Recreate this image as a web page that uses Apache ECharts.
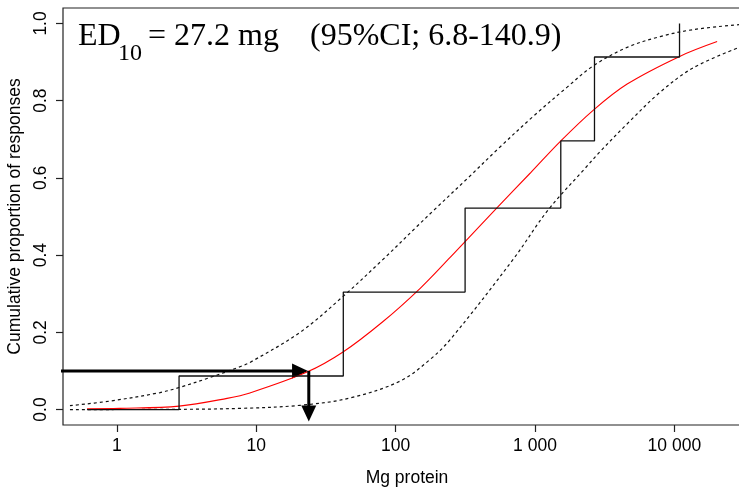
<!DOCTYPE html>
<html>
<head>
<meta charset="utf-8">
<script src="https://cdn.jsdelivr.net/npm/echarts@6/dist/echarts.min.js"></script>
<style>
html,body{margin:0;padding:0;background:#fff;}
#c{width:739px;height:495px;}
</style>
</head>
<body>
<div id="c"></div>
<script>
// ---- data (x in mg protein, y = cumulative proportion) ----
var xTickValues = [1, 10, 100, 1000, 10000];
var xTickLabels = ['1', '10', '100', '1 000', '10 000'];
var yTickValues = [0, 0.2, 0.4, 0.6, 0.8, 1.0];

// empirical step function (23 subjects)
var stepX = [0.61, 2.79, 42.1, 315, 1531, 2672, 10890];
var stepY = [0, 2/23, 7/23, 12/23, 16/23, 21/23, 1.0];

// fitted curve (red)
var fitX = [0.61, 1.05, 2.79, 6.17, 9.0, 23.1, 41.9, 81.2, 150, 246, 315, 535, 922, 1514, 2612, 4584, 10820, 20280];
var fitY = [0.002, 0.003, 0.009, 0.029, 0.043, 0.097, 0.149, 0.228, 0.314, 0.394, 0.435, 0.523, 0.612, 0.694, 0.775, 0.843, 0.914, 0.953];

// 95% CI, upper band
var upX = [0.46, 0.89, 2.04, 2.79, 4.66, 7.64, 9.0, 20.6, 41.9, 81.2, 142, 185, 326, 561, 968, 1700, 2612, 4584, 7910, 13650, 29200];
var upY = [0.010, 0.022, 0.044, 0.057, 0.083, 0.111, 0.122, 0.200, 0.293, 0.389, 0.474, 0.514, 0.598, 0.680, 0.759, 0.835, 0.890, 0.938, 0.966, 0.984, 0.997];

// 95% CI, lower band
var loX = [0.46, 2.40, 7.64, 20.6, 47.1, 108, 177, 246, 697, 1242, 2290, 2932, 4584, 7910, 13650, 29200];
var loY = [0.0, 0.0005, 0.003, 0.011, 0.03, 0.074, 0.13, 0.181, 0.389, 0.517, 0.625, 0.668, 0.740, 0.822, 0.885, 0.938];

// ED10 arrows
var arrowHX = [0.371, 20.6];   var arrowHY = [0.1, 0.1];
var arrowVX = [23.8, 23.8];    var arrowVY = [0.1, -0.010];
var headX = [20.6, 23.8];      var headY = [0.1, -0.010];

var L = function (v) { return Math.log10(v); };
function pts(xs, ys) { return xs.map(function (x, i) { return [L(x), ys[i]]; }); }

var chart = echarts.init(document.getElementById('c'), null, {renderer: 'canvas'});
var font = '"Liberation Sans", Arial, sans-serif';
var serif = '"Liberation Serif", "Times New Roman", serif';
var axisColor = '#222';
var dashed = {color: '#111', width: 1.2, type: [3, 3]};
var xTicksLog = xTickValues.map(L);

chart.setOption({
  animation: false,
  grid: {left: 63, top: 8, width: 688, height: 417, outerBoundsMode: 'none', containLabel: false,
    show: true, borderColor: axisColor, borderWidth: 1.2, backgroundColor: 'transparent'},
  xAxis: {
    type: 'value', min: L(0.41), max: 4.55,
    name: 'Mg protein', nameLocation: 'middle', nameGap: 44,
    nameTextStyle: {fontFamily: font, fontSize: 17.5, color: '#000'},
    axisLine: {show: false, onZero: false},
    axisTick: {show: true, length: 7, inside: false, customValues: xTicksLog, lineStyle: {color: axisColor, width: 1.2}},
    axisLabel: {customValues: xTicksLog, margin: 12, fontFamily: font, fontSize: 17.5, color: '#000',
      formatter: function (v) { var i = xTicksLog.findIndex(function (t) { return Math.abs(t - v) < 1e-6; }); return i >= 0 ? xTickLabels[i] : ''; }},
    splitLine: {show: false}
  },
  yAxis: {
    type: 'value', min: -0.04, max: 1.04,
    name: 'Cumulative proportion of responses', nameLocation: 'middle', nameGap: 36,
    nameTextStyle: {fontFamily: font, fontSize: 17.5, color: '#000'},
    axisLine: {show: false, onZero: false},
    axisTick: {show: true, length: 7, customValues: yTickValues, lineStyle: {color: axisColor, width: 1.2}},
    axisLabel: {customValues: yTickValues, rotate: 90, margin: 13, fontFamily: font, fontSize: 17.5, color: '#000',
      formatter: function (v) { return v.toFixed(1); }},
    splitLine: {show: false}
  },
  series: [
    {type: 'line', data: pts(upX, upY), smooth: 0.35, showSymbol: false, lineStyle: dashed, silent: true},
    {type: 'line', data: pts(loX, loY), smooth: 0.35, showSymbol: false, lineStyle: dashed, silent: true},
    {type: 'line', data: pts(fitX, fitY), smooth: 0.35, showSymbol: false, lineStyle: {color: '#ff0000', width: 1.1}, silent: true},
    {type: 'line', data: pts(stepX, stepY), step: 'end', showSymbol: false, lineStyle: {color: '#111', width: 1.3}, silent: true},
    {type: 'line', data: pts(arrowHX, arrowHY), showSymbol: false, clip: false, lineStyle: {color: '#000', width: 3}, silent: true},
    {type: 'line', data: pts(arrowVX, arrowVY), showSymbol: false, clip: false, lineStyle: {color: '#000', width: 3}, silent: true},
    {type: 'scatter', clip: false, silent: true, symbol: 'triangle', symbolSize: [15, 16],
      itemStyle: {color: '#000', opacity: 1},
      data: [
        {value: [L(headX[0]), headY[0]], symbolRotate: -90},
        {value: [L(headX[1]), headY[1]], symbolRotate: 180}
      ]}
  ],
  graphic: [
    {type: 'text', left: 78, top: 21, style: {text: 'ED', fontFamily: serif, fontSize: 32, fill: '#000'}},
    {type: 'text', left: 118, top: 42, style: {text: '10', fontFamily: serif, fontSize: 24, fill: '#000'}},
    {type: 'text', left: 148, top: 21, style: {text: '= 27.2 mg', fontFamily: serif, fontSize: 32, fill: '#000'}},
    {type: 'text', left: 310, top: 21, style: {text: '(95%CI; 6.8-140.9)', fontFamily: serif, fontSize: 32, fill: '#000'}}
  ]
});
</script>
</body>
</html>
